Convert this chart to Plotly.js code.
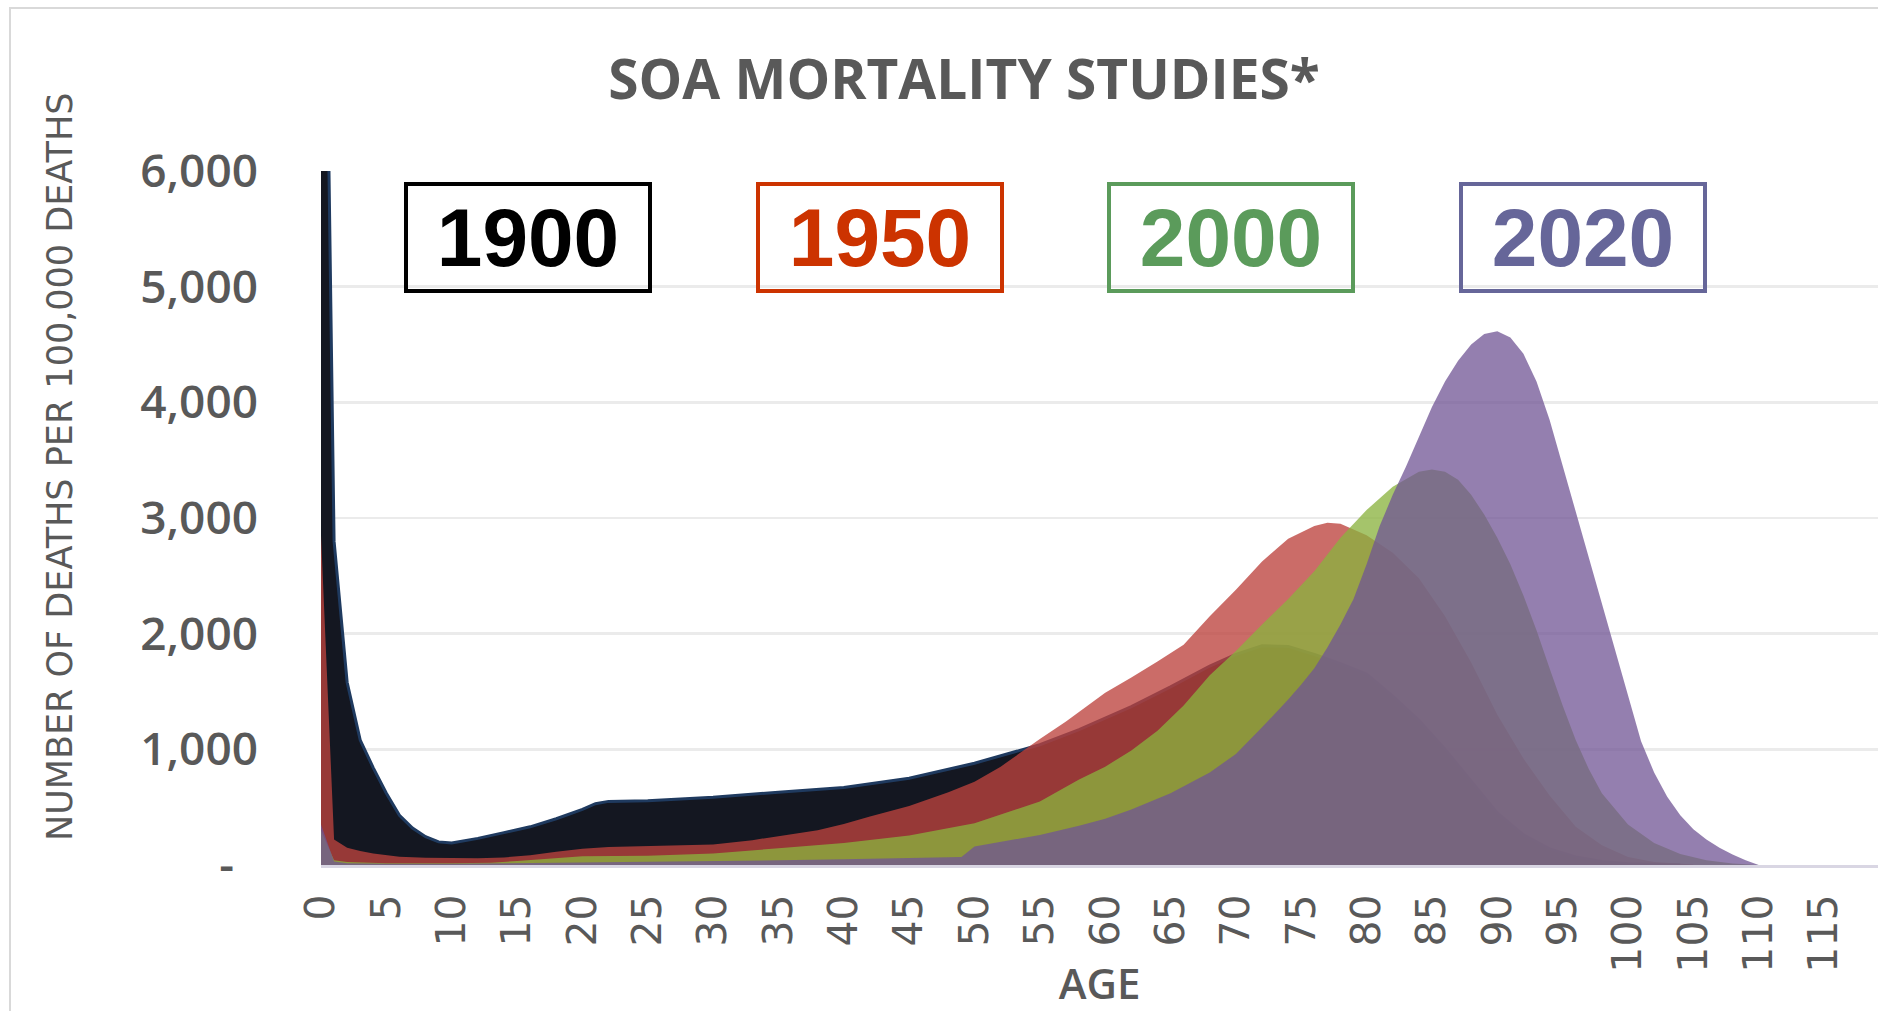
<!DOCTYPE html>
<html>
<head>
<meta charset="utf-8">
<script src="https://cdn.plot.ly/plotly-3.0.1.min.js"></script>
<style>
  html, body { margin: 0; padding: 0; background: #ffffff; }
  #chart { width: 1878px; height: 1011px; }
</style>
</head>
<body>
<div id="chart"></div>
<script>
// ---- Data ----
const seriesNames = ["1900", "1950", "2000", "2020"];

const ages1900 = [0,1,2,3,4,5,6,7,8,9,10,12,14,16,18,20,21,22,25,30,35,40,45,50,55,58,60,62,65,68,70,72,74,76,78,80,82,84,86,88,90,92,94,96,98,100,104];
const deaths1900 = [11000,2800,1580,1080,840,620,430,320,245,200,190,230,280,330,400,480,530,550,555,585,630,670,750,880,1040,1170,1270,1370,1540,1720,1820,1895,1890,1820,1740,1650,1460,1250,1000,720,450,260,140,70,30,10,0];

const ages1950 = [0,1,2,3,4,5,6,8,10,12,14,16,18,20,22,25,30,33,35,38,40,42,45,48,50,52,55,57,60,62,64,66,68,70,72,74,76,77,78,80,82,84,86,88,90,92,94,96,98,100,102,105];
const deaths1950 = [2850,220,150,120,100,85,72,62,58,58,65,85,115,140,155,165,178,215,250,300,355,420,510,630,720,850,1090,1240,1490,1620,1760,1905,2150,2380,2625,2820,2930,2960,2950,2850,2700,2480,2150,1750,1300,920,600,330,170,70,25,5];

const ages2000 = [0,1,2,5,10,13,15,18,20,25,30,35,40,45,50,55,58,60,62,64,66,68,70,72,74,76,78,80,82,84,85,86,87,88,89,90,91,92,93,94,95,96,97,98,100,102,104,106,108,110];
const deaths2000 = [300,40,25,15,15,20,35,60,75,80,100,145,190,255,360,550,740,850,990,1160,1380,1640,1850,2080,2300,2540,2830,3070,3270,3400,3420,3400,3330,3200,3030,2830,2600,2330,2030,1700,1380,1080,830,620,350,190,95,40,12,0];

const ages2020 = [0,1,2,5,10,15,20,25,30,35,40,45,49,50,52,55,58,60,62,65,68,70,72,74,75,76,77,78,79,80,81,82,83,84,85,86,87,88,89,90,91,92,93,94,95,96,97,98,99,100,101,102,103,104,105,106,107,108,109,110];
const deaths2020 = [350,30,15,10,10,15,25,30,35,40,50,60,70,160,200,260,340,400,480,620,800,960,1190,1430,1560,1700,1880,2080,2300,2600,2930,3200,3440,3700,3960,4180,4360,4500,4590,4615,4560,4420,4180,3850,3450,3050,2650,2250,1850,1450,1070,800,590,430,310,220,150,90,40,0];

const xTickVals = [0,5,10,15,20,25,30,35,40,45,50,55,60,65,70,75,80,85,90,95,100,105,110,115];
const xTickText = xTickVals.map(String);
const yTickVals = [0,1000,2000,3000,4000,5000,6000];
const yTickText = ["-\u00a0\u00a0","1,000","2,000","3,000","4,000","5,000","6,000"];

const chartTitle = "SOA MORTALITY STUDIES*";
const xTitle = "AGE";
const yTitle = "NUMBER OF DEATHS PER 100,000 DEATHS";

// ---- Styling ----
const W = 1878, H = 1011;
const M = {l: 321, r: 0, t: 171, b: 146};
const plotW = W - M.l - M.r, plotH = H - M.t - M.b;
const px2x = px => (px - M.l) / plotW;
const px2y = py => (H - M.b - py) / plotH;

function area(x, y, name, fill, lineColor, lineWidth) {
  return {
    type: "scatter", mode: "lines", x: x, y: y, name: name,
    fill: "tozeroy", fillcolor: fill,
    line: {color: lineColor, width: lineWidth, shape: "linear"},
    hoverinfo: "x+y+name"
  };
}

const traces = [
  area(ages1900, deaths1900, seriesNames[0], "rgba(12,16,26,0.97)", "#1f3a5f", 3),
  area(ages1950, deaths1950, seriesNames[1], "rgba(188,66,62,0.78)", "rgba(0,0,0,0)", 0),
  area(ages2000, deaths2000, seriesNames[2], "rgba(138,178,62,0.77)", "rgba(0,0,0,0)", 0),
  area(ages2020, deaths2020, seriesNames[3], "rgba(112,84,148,0.75)", "rgba(0,0,0,0)", 0)
];

const labelBoxes = [
  {text: "1900", color: "#000000", cx: 528},
  {text: "1950", color: "#cc3300", cx: 880},
  {text: "2000", color: "#5b9b5b", cx: 1231},
  {text: "2020", color: "#666699", cx: 1583}
];

const annotations = labelBoxes.map(b => ({
  xref: "paper", yref: "paper",
  x: px2x(b.cx), y: px2y(237),
  xanchor: "center", yanchor: "middle",
  text: "<b>" + b.text + "</b>",
  showarrow: false,
  font: {family: "Liberation Sans, Arial, sans-serif", size: 82, color: b.color},
  width: 240, height: 103,
  bordercolor: b.color, borderwidth: 4, borderpad: 0,
  bgcolor: "rgba(255,255,255,0)"
}));

// y-axis title, placed where the reference has it
annotations.push({
  xref: "paper", yref: "paper",
  x: px2x(60), y: px2y(467),
  xanchor: "center", yanchor: "middle",
  text: yTitle, textangle: -90, showarrow: false,
  font: {family: "DejaVu Sans, sans-serif", size: 35, color: "#595959"}
});

const layout = {
  width: W, height: H,
  margin: M,
  paper_bgcolor: "#ffffff",
  plot_bgcolor: "#ffffff",
  showlegend: false,
  title: {
    text: chartTitle,
    xref: "container", yref: "container",
    x: 964 / W, y: 1 - 80 / H, xanchor: "center", yanchor: "middle",
    font: {family: "Open Sans, sans-serif", size: 55, weight: 700, color: "#595959"}
  },
  xaxis: {
    range: [0, (W - M.l) / 13.07],
    tickvals: xTickVals, ticktext: xTickText,
    tickangle: -90,
    ticks: "", ticklabelstandoff: 10,
    tickfont: {family: "DejaVu Sans, sans-serif", size: 41, color: "#595959"},
    showgrid: false, zeroline: false,
    showline: true, linecolor: "#d9d6e3", linewidth: 3,
    title: {text: xTitle, standoff: 4,
            font: {family: "Open Sans, sans-serif", size: 42, weight: 600, color: "#595959"}}
  },
  yaxis: {
    range: [0, 6000],
    tickvals: yTickVals, ticktext: yTickText,
    ticks: "", ticklabelstandoff: 62,
    tickfont: {family: "Open Sans, sans-serif", size: 46, weight: 600, color: "#595959"},
    showgrid: true, gridcolor: "#ebebeb", gridwidth: 2.5,
    zeroline: false, showline: false
  },
  annotations: annotations,
  shapes: [{
    type: "rect", xref: "paper", yref: "paper", layer: "below",
    x0: px2x(10), x1: px2x(W + 20), y0: px2y(H + 20), y1: px2y(8),
    line: {color: "#d9d9d9", width: 2}, fillcolor: "rgba(0,0,0,0)"
  }]
};

Plotly.newPlot("chart", traces, layout, {displayModeBar: false, staticPlot: true});
</script>
</body>
</html>
